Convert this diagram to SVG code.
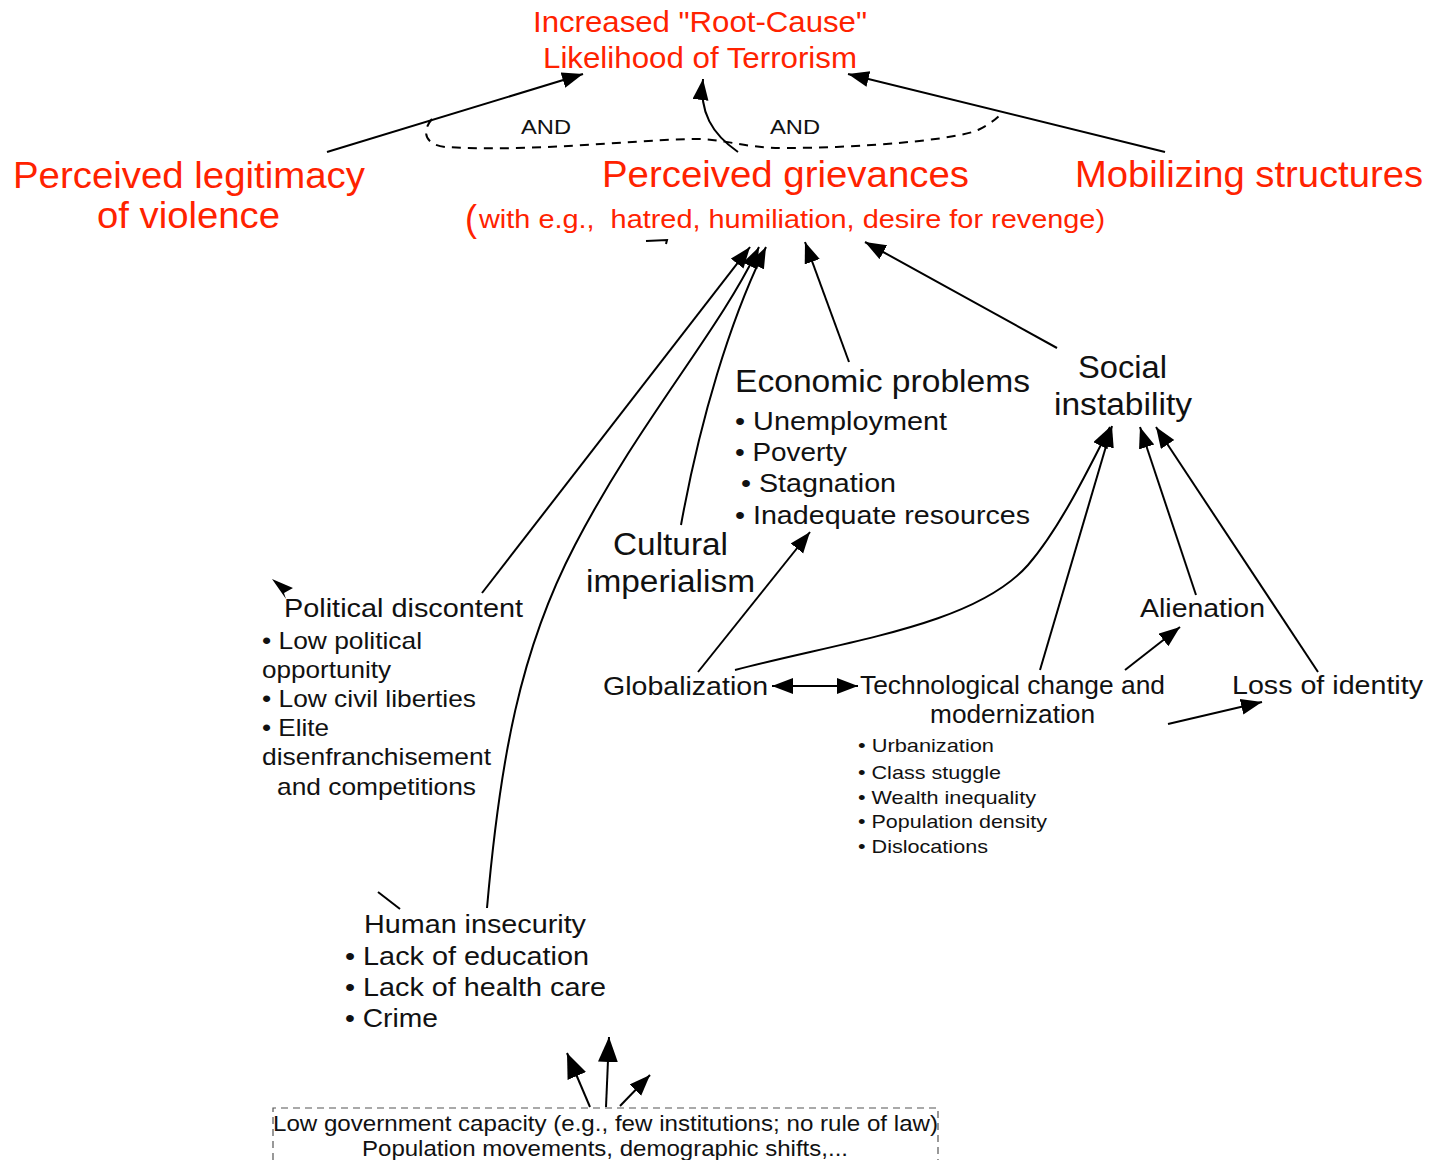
<svg xmlns="http://www.w3.org/2000/svg" width="1435" height="1160" viewBox="0 0 1435 1160">
  <style>
    .t { font-family: "Liberation Sans", Arial, sans-serif; fill: #111; }
    .red { font-family: "Liberation Sans", Arial, sans-serif; fill: #ff2200; }
    .edge { fill: none; stroke: #000; stroke-width: 2; }
    .dash { fill: none; stroke: #000; stroke-width: 2; stroke-dasharray: 9 7; }
    .box { fill: none; stroke: #555; stroke-width: 1.2; stroke-dasharray: 7 5; }
  </style>
  <defs>
    <marker id="arrow" markerUnits="userSpaceOnUse" markerWidth="24" markerHeight="18" refX="21" refY="8" orient="auto">
      <path d="M0,0 L21,8 L0,16 z" fill="#000"/>
    </marker>
    <marker id="arrowStart" markerUnits="userSpaceOnUse" markerWidth="24" markerHeight="18" refX="0" refY="8" orient="auto">
      <path d="M21,0 L0,8 L21,16 z" fill="#000"/>
    </marker>
    <marker id="arrowBig" markerUnits="userSpaceOnUse" markerWidth="28" markerHeight="22" refX="25" refY="10" orient="auto">
      <path d="M0,0 L25,10 L0,20 z" fill="#000"/>
    </marker>
  </defs>

  <!-- connectors -->
  <g id="connectors">
    <!-- into the top outcome -->
    <path class="edge" d="M327,152 L583,74" marker-end="url(#arrow)"/>
    <path class="edge" d="M738,152 C712,134 699,112 703,79" marker-end="url(#arrow)"/>
    <path class="edge" d="M1165,152 L848,74" marker-end="url(#arrow)"/>
    <!-- AND conjunction -->
    <path class="dash" d="M432,119 C423,129 422,144 445,147 C530,152 620,141 690,139 C725,138 740,148 785,148 C860,148 955,140 978,130 C992,123 998,117 1002,113"/>

    <!-- into perceived grievances -->
    <path class="edge" d="M482,593 L750,247" marker-end="url(#arrow)"/>
    <path class="edge" d="M487,908 C500,760 520,650 575,545 C640,420 720,330 759,247" marker-end="url(#arrow)"/>
    <path class="edge" d="M681,525 C700,420 730,320 766,247" marker-end="url(#arrow)"/>
    <path class="edge" d="M849,362 L805,242" marker-end="url(#arrow)"/>
    <path class="edge" d="M1057,348 L865,242" marker-end="url(#arrow)"/>

    <!-- into social instability -->
    <path class="edge" d="M735,670 C850,640 975,625 1028,565 C1060,528 1088,470 1110,427" marker-end="url(#arrow)"/>
    <path class="edge" d="M1040,670 L1112,426" marker-end="url(#arrow)"/>
    <path class="edge" d="M1196,595 L1140,427" marker-end="url(#arrow)"/>
    <path class="edge" d="M1318,672 L1156,427" marker-end="url(#arrow)"/>

    <!-- lower level -->
    <path class="edge" d="M698,672 L810,532" marker-end="url(#arrow)"/>
    <path class="edge" d="M772,686 L858,686" marker-start="url(#arrowStart)" marker-end="url(#arrow)"/>
    <path class="edge" d="M1125,670 L1180,627" marker-end="url(#arrow)"/>
    <path class="edge" d="M1168,724 L1262,702" marker-end="url(#arrow)"/>

    <!-- from government capacity -->
    <path class="edge" d="M590,1107 L567,1053" marker-end="url(#arrowBig)" stroke-width="3"/>
    <path class="edge" d="M606,1107 L609,1037" marker-end="url(#arrowBig)" stroke-width="3"/>
    <path class="edge" d="M620,1106 L650,1075" marker-end="url(#arrow)"/>

    <!-- loose marks -->
    <path class="edge" d="M646,241 L667,240 L666,244" stroke-width="1.5"/>
    <path d="M272,579 L293,588 L284,593 L286,599 z" fill="#000"/>
    <path class="edge" d="M378,892 L400,909" stroke-width="1.5"/>
  </g>

  <!-- outcome -->
  <g id="outcome">
    <text class="red" x="533" y="32" font-size="30" textLength="334" lengthAdjust="spacingAndGlyphs">Increased "Root-Cause"</text>
    <text class="red" x="543" y="68" font-size="30" textLength="314" lengthAdjust="spacingAndGlyphs">Likelihood of Terrorism</text>
  </g>
  <g id="and-labels">
    <text class="t" x="521" y="134" font-size="21" textLength="50" lengthAdjust="spacingAndGlyphs">AND</text>
    <text class="t" x="770" y="134" font-size="21" textLength="50" lengthAdjust="spacingAndGlyphs">AND</text>
  </g>

  <g id="legitimacy">
    <text class="red" x="13" y="188" font-size="37" textLength="352" lengthAdjust="spacingAndGlyphs">Perceived legitimacy</text>
    <text class="red" x="97" y="228" font-size="37" textLength="183" lengthAdjust="spacingAndGlyphs">of violence</text>
  </g>

  <g id="grievances">
    <text class="red" x="602" y="187" font-size="37" textLength="367" lengthAdjust="spacingAndGlyphs">Perceived grievances</text>
    <text class="red" x="465" y="231" font-size="36">(</text>
    <text class="red" x="479" y="228" font-size="26" style="white-space:pre" textLength="626" lengthAdjust="spacingAndGlyphs">with e.g.,  hatred, humiliation, desire for revenge)</text>
  </g>

  <g id="mobilizing">
    <text class="red" x="1075" y="187" font-size="37" textLength="348" lengthAdjust="spacingAndGlyphs">Mobilizing structures</text>
  </g>

  <g id="economic">
    <text class="t" x="735" y="392" font-size="31" textLength="295" lengthAdjust="spacingAndGlyphs">Economic problems</text>
    <text class="t" x="735" y="430" font-size="26" textLength="212" lengthAdjust="spacingAndGlyphs">• Unemployment</text>
    <text class="t" x="735" y="461" font-size="26" textLength="112" lengthAdjust="spacingAndGlyphs">• Poverty</text>
    <text class="t" x="741" y="492" font-size="26" textLength="155" lengthAdjust="spacingAndGlyphs">• Stagnation</text>
    <text class="t" x="735" y="524" font-size="26" textLength="295" lengthAdjust="spacingAndGlyphs">• Inadequate resources</text>
  </g>

  <g id="social">
    <text class="t" x="1078" y="378" font-size="31" textLength="89" lengthAdjust="spacingAndGlyphs">Social</text>
    <text class="t" x="1054" y="415" font-size="31" textLength="138" lengthAdjust="spacingAndGlyphs">instability</text>
  </g>

  <g id="cultural">
    <text class="t" x="613" y="555" font-size="31" textLength="115" lengthAdjust="spacingAndGlyphs">Cultural</text>
    <text class="t" x="586" y="592" font-size="31" textLength="169" lengthAdjust="spacingAndGlyphs">imperialism</text>
  </g>

  <g id="political">
    <text class="t" x="284" y="617" font-size="26" textLength="239" lengthAdjust="spacingAndGlyphs">Political discontent</text>
    <text class="t" x="262" y="649" font-size="24" textLength="160" lengthAdjust="spacingAndGlyphs">• Low political</text>
    <text class="t" x="262" y="678" font-size="24" textLength="129" lengthAdjust="spacingAndGlyphs">opportunity</text>
    <text class="t" x="262" y="707" font-size="24" textLength="214" lengthAdjust="spacingAndGlyphs">• Low civil liberties</text>
    <text class="t" x="262" y="736" font-size="24" textLength="67" lengthAdjust="spacingAndGlyphs">• Elite</text>
    <text class="t" x="262" y="765" font-size="24" textLength="229" lengthAdjust="spacingAndGlyphs">disenfranchisement</text>
    <text class="t" x="277" y="795" font-size="24" textLength="199" lengthAdjust="spacingAndGlyphs">and competitions</text>
  </g>

  <g id="globalization">
    <text class="t" x="603" y="695" font-size="25" textLength="165" lengthAdjust="spacingAndGlyphs">Globalization</text>
  </g>

  <g id="technological">
    <text class="t" x="860" y="694" font-size="25" textLength="305" lengthAdjust="spacingAndGlyphs">Technological change and</text>
    <text class="t" x="930" y="723" font-size="25" textLength="165" lengthAdjust="spacingAndGlyphs">modernization</text>
    <text class="t" x="858" y="752" font-size="19" textLength="136" lengthAdjust="spacingAndGlyphs">• Urbanization</text>
    <text class="t" x="858" y="779" font-size="19" textLength="143" lengthAdjust="spacingAndGlyphs">• Class stuggle</text>
    <text class="t" x="858" y="804" font-size="19" textLength="178" lengthAdjust="spacingAndGlyphs">• Wealth inequality</text>
    <text class="t" x="858" y="828" font-size="19" textLength="189" lengthAdjust="spacingAndGlyphs">• Population density</text>
    <text class="t" x="858" y="853" font-size="19" textLength="130" lengthAdjust="spacingAndGlyphs">• Dislocations</text>
  </g>

  <g id="alienation">
    <text class="t" x="1140" y="617" font-size="25" textLength="125" lengthAdjust="spacingAndGlyphs">Alienation</text>
  </g>

  <g id="identity">
    <text class="t" x="1232" y="694" font-size="25" textLength="191" lengthAdjust="spacingAndGlyphs">Loss of identity</text>
  </g>

  <g id="human">
    <text class="t" x="364" y="933" font-size="26" textLength="222" lengthAdjust="spacingAndGlyphs">Human insecurity</text>
    <text class="t" x="345" y="965" font-size="26" textLength="244" lengthAdjust="spacingAndGlyphs">• Lack of education</text>
    <text class="t" x="345" y="996" font-size="26" textLength="261" lengthAdjust="spacingAndGlyphs">• Lack of health care</text>
    <text class="t" x="345" y="1027" font-size="26" textLength="93" lengthAdjust="spacingAndGlyphs">• Crime</text>
  </g>

  <g id="government">
    <path class="box" d="M273,1160 L273,1108 L938,1108 L938,1160"/>
    <text class="t" x="273" y="1131" font-size="22" textLength="665" lengthAdjust="spacingAndGlyphs">Low government capacity (e.g., few institutions; no rule of law)</text>
    <text class="t" x="362" y="1156" font-size="22" textLength="486" lengthAdjust="spacingAndGlyphs">Population movements, demographic shifts,...</text>
  </g>
</svg>
